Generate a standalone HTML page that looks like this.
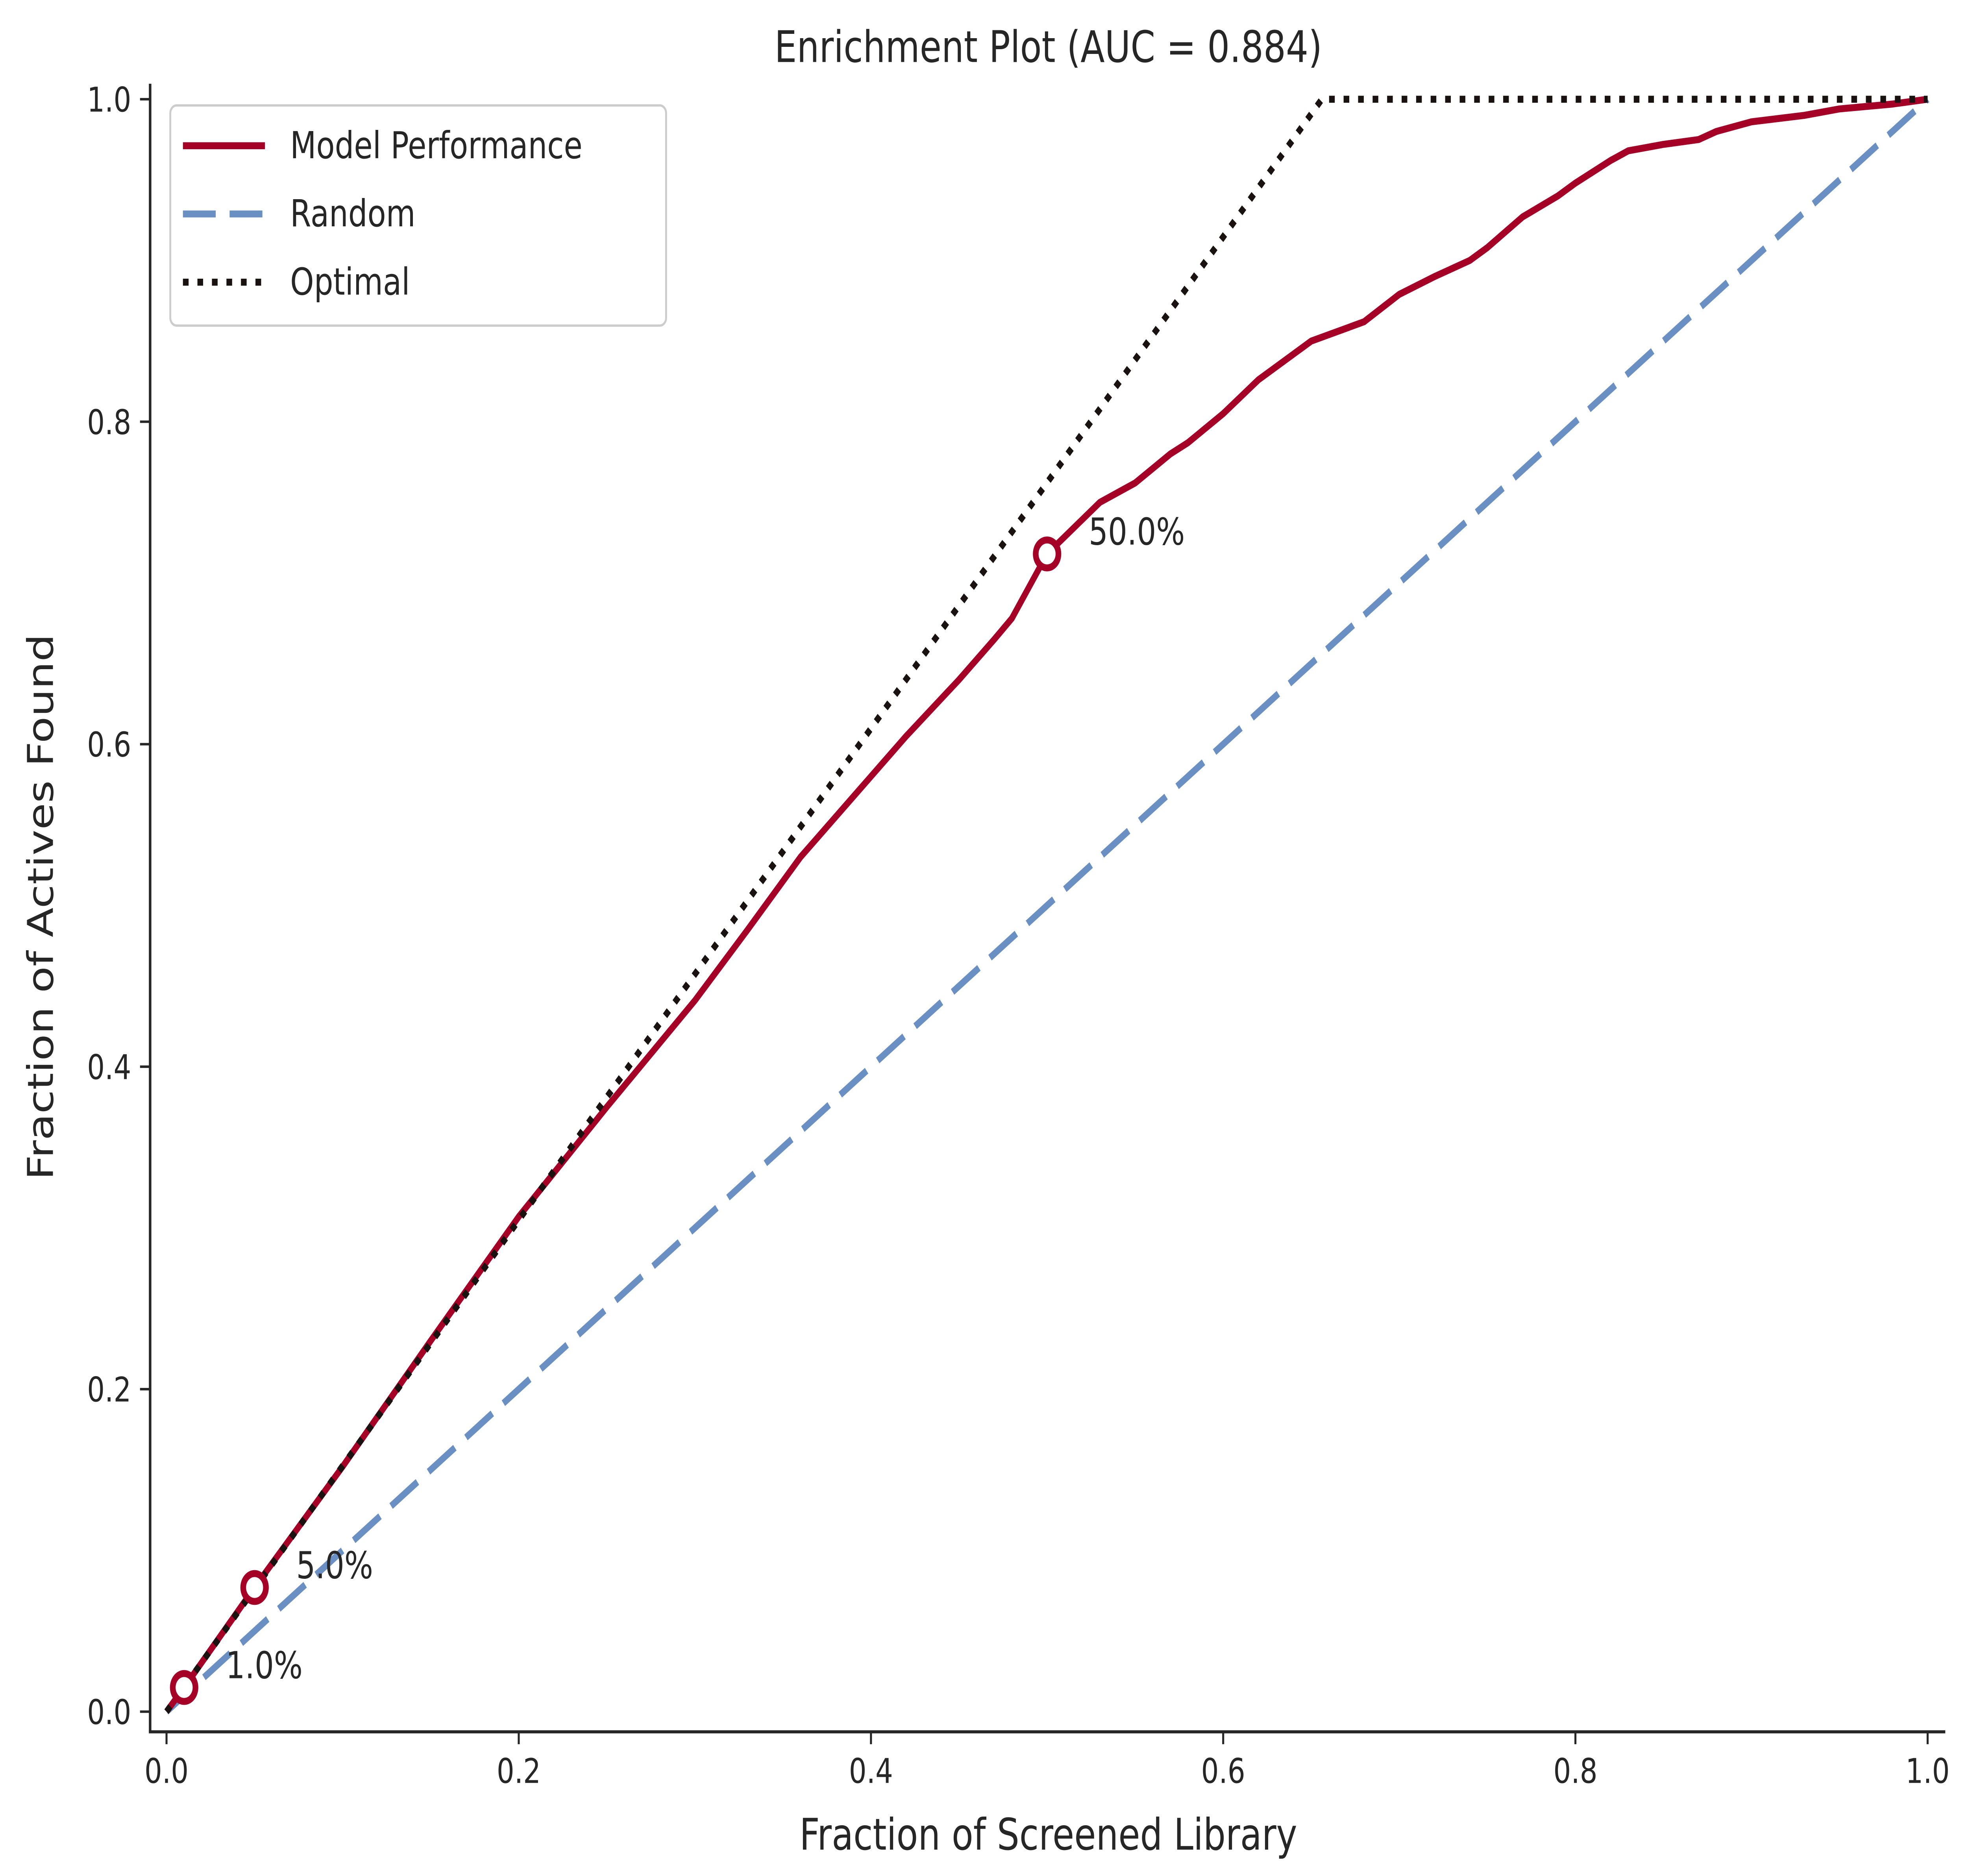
<!DOCTYPE html>
<html><head><meta charset="utf-8"><style>
html,body{margin:0;padding:0;background:#fff;width:100%;height:100%;overflow:hidden;}
svg{display:block;position:absolute;left:0;top:0;width:100vw;height:100vh;font-family:"DejaVu Sans","Liberation Sans",sans-serif;}
</style></head><body>
<svg id="chart" viewBox="0 0 1560 1210" preserveAspectRatio="none" xmlns="http://www.w3.org/2000/svg">
<rect width="1560" height="1210" fill="#fff"/>
<g id="plot"></g>
</svg>
<script>
const modelX = [0,0.01,0.05,0.1,0.15,0.2,0.25,0.3,0.33,0.36,0.4,0.42,0.45,0.47,0.48,0.5,0.53,0.55,0.57,0.58,0.6,0.62,0.64,0.65,0.68,0.7,0.72,0.74,0.75,0.77,0.79,0.8,0.82,0.83,0.85,0.87,0.88,0.9,0.93,0.95,0.98,1.0];
const modelY = [0,0.015,0.077,0.152,0.23,0.307,0.375,0.441,0.485,0.53,0.58,0.605,0.64,0.665,0.678,0.718,0.75,0.762,0.78,0.787,0.805,0.826,0.842,0.85,0.862,0.879,0.89,0.9,0.908,0.927,0.94,0.948,0.962,0.968,0.972,0.975,0.98,0.986,0.99,0.994,0.997,1.0];
const randomX = [0,1];
const randomY = [0,1];
const optimalX = [0,0.656,1];
const optimalY = [0,1,1];
const markerX = [0.01,0.05,0.5];
const markerY = [0.015,0.077,0.718];
const markerLabels = ["1.0%","5.0%","50.0%"];
const xTicks = [0,0.2,0.4,0.6,0.8,1.0];
const yTicks = [0,0.2,0.4,0.6,0.8,1.0];
const tickLabels = ["0.0","0.2","0.4","0.6","0.8","1.0"];

const NS="http://www.w3.org/2000/svg";
const g=document.getElementById('plot');
const X0=132,X1=1528,Y0=1104,Y1=64;
const sx=v=>X0+v*(X1-X0);
const sy=v=>Y0-v*(Y0-Y1);
function el(t,a,p){const e=document.createElementNS(NS,t);for(const k in a)e.setAttribute(k,a[k]);(p||g).appendChild(e);return e;}
const TC="#262626";
let t=el('text',{x:831,y:40,'font-size':28,'text-anchor':'middle',fill:TC});t.textContent="Enrichment Plot (AUC = 0.884)";


let sp=el('line',{x1:119,y1:54,x2:119,y2:1117,stroke:TC,'stroke-width':2});


sp=el('line',{x1:118,y1:1117,x2:1542,y2:1117,stroke:TC,'stroke-width':2});


xTicks.forEach((v,i)=>{
  el('line',{x1:sx(v),y1:1117,x2:sx(v),y2:1125,stroke:TC,'stroke-width':1.6});
  const tx=el('text',{x:sx(v),y:1150,'font-size':22,'text-anchor':'middle',fill:TC});tx.textContent=tickLabels[i];
  
  
});
yTicks.forEach((v,i)=>{
  el('line',{x1:111,y1:sy(v),x2:119,y2:sy(v),stroke:TC,'stroke-width':1.6});
  const tx=el('text',{x:104,y:sy(v)+8,'font-size':22,'text-anchor':'end',fill:TC});tx.textContent=tickLabels[i];
  
  
});
t=el('text',{x:831,y:1193,'font-size':28,'text-anchor':'middle',fill:TC});t.textContent="Fraction of Screened Library";


t=el('text',{x:0,y:0,'font-size':28,'text-anchor':'middle',fill:TC,transform:'translate(42,585) rotate(-90)'});t.textContent="Fraction of Actives Found";


function pts(xs,ys){return xs.map((x,i)=>sx(x)+','+sy(ys[i])).join(' ');}
let l=el('polyline',{points:pts(randomX,randomY),fill:'none',stroke:'#6a8fc2','stroke-width':4.5,'stroke-dasharray':'26 11'});


l=el('polyline',{points:pts(modelX,modelY),fill:'none',stroke:'#a50026','stroke-width':4.5,'stroke-linejoin':'round'});


l=el('polyline',{points:pts(optimalX,optimalY),fill:'none',stroke:'#1a1210','stroke-width':4.5,'stroke-dasharray':'4.5 7'});


markerX.forEach((v,i)=>{
  const c=el('circle',{cx:sx(v),cy:sy(markerY[i]),r:9,fill:'#fff',stroke:'#a50026','stroke-width':4.5});
  
  
  const tx=el('text',{x:sx(v)+33,y:sy(markerY[i])-6,'font-size':24,fill:TC});tx.textContent=markerLabels[i];
  
  
});
const lg=el('g',{});


el('rect',{x:135,y:68,width:393,height:142,rx:5,fill:'#fff','fill-opacity':0.8,stroke:'#cccccc','stroke-width':1.5},lg);
const entries=[["Model Performance",'#a50026','none'],["Random",'#6a8fc2','26 11'],["Optimal",'#1a1210','4.5 7']];
entries.forEach((e,i)=>{
  const y=94+i*44;
  const ln=el('line',{x1:145,y1:y,x2:210,y2:y,stroke:e[1],'stroke-width':4.5,'stroke-dasharray':e[2]},lg);
  
  
  const tx=el('text',{x:230,y:y+8,'font-size':24,fill:TC},lg);tx.textContent=e[0];
  
  
});
</script>
</body></html>
